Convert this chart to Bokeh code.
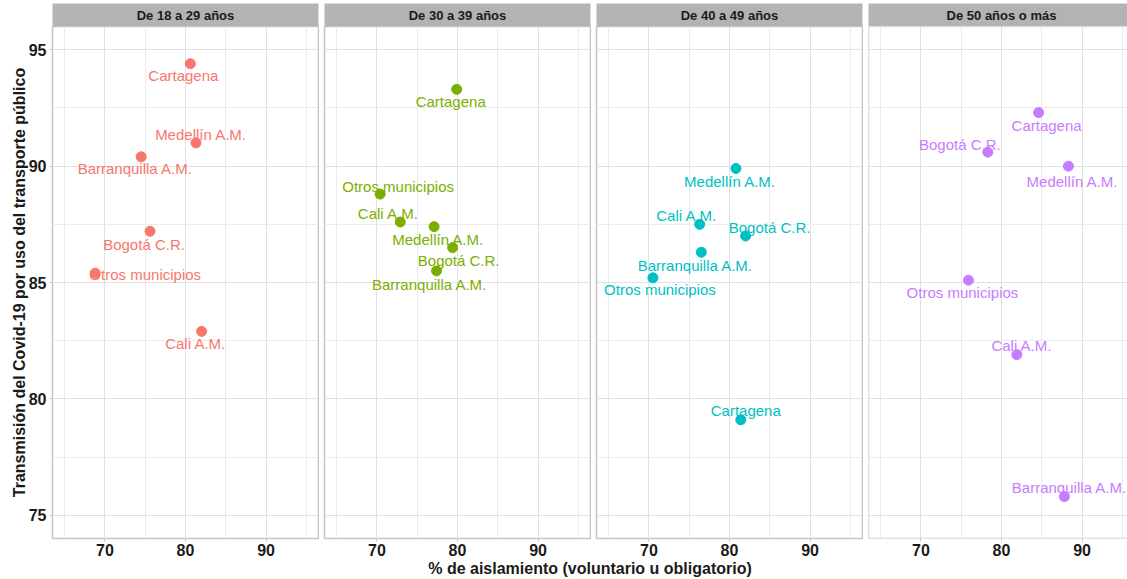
from bokeh.plotting import figure
from bokeh.layouts import row, column
from bokeh.models import Range1d, FixedTicker, Label, Span, ColumnDataSource
from bokeh.embed import file_html
from bokeh.resources import INLINE
from bokeh.core.properties import value

# ---- data -------------------------------------------------------------
grupos = ["De 18 a 29 años", "De 30 a 39 años", "De 40 a 49 años", "De 50 años o más"]
ciudades = ["Barranquilla A.M.", "Bogotá C.R.", "Cali A.M.", "Cartagena",
            "Medellín A.M.", "Otros municipios"]

# % de aislamiento (x), same city order as `ciudades`
aislamiento_18_29 = [74.5, 75.6, 82.0, 80.6, 81.3, 68.8]
aislamiento_30_39 = [77.4, 79.4, 72.9, 79.9, 77.1, 70.4]
aislamiento_40_49 = [76.5, 82.0, 76.3, 81.4, 80.8, 70.5]
aislamiento_50_mas = [87.8, 78.3, 81.9, 84.6, 88.3, 75.9]

# transmisión por uso del transporte público (y)
transmision_18_29 = [90.4, 87.2, 82.9, 94.4, 91.0, 85.4]
transmision_30_39 = [85.5, 86.5, 87.6, 93.3, 87.4, 88.8]
transmision_40_49 = [86.3, 87.0, 87.5, 79.1, 89.9, 85.2]
transmision_50_mas = [75.8, 90.6, 81.9, 92.3, 90.0, 85.1]

x_ticks = [70, 80, 90]
x_minor = [65, 75, 85, 95]
y_ticks = [75, 80, 85, 90, 95]
y_minor = [77.5, 82.5, 87.5, 92.5]

x_label = "% de aislamiento (voluntario u obligatorio)"
y_label = "Transmisión del Covid-19 por uso del transporte público"

# ---- styling / layout -------------------------------------------------
colores = ["#F8766D", "#7CAE00", "#00BFC4", "#C77CFF"]
FONT = "Liberation Sans"
X0, X1 = 63.5, 96.5
Y0, Y1 = 74.0, 96.0
FRAME_W, FRAME_H = 266, 512
frame_widths = [266, 266, 266, 259]
left_borders = [52, 5, 5, 5]
right_borders = [1, 1, 1, 0]

# label offsets in screen pixels (dx, dy), per panel, city order
offsets = [
    [(-6, 12), (-6, 13), (-6, 12), (-7, 12), (5, -8), (50, 1)],
    [(-7, 14), (6, 13), (-12, -8), (-6, 12), (4, 13), (18, -8)],
    [(-6, 13), (24, -8), (-13, -9), (5, -9), (-6, 13), (7, 12)],
    [(5, -9), (-28, -8), (5, -9), (8, 13), (4, 15), (-6, 12)],
]

xs = [aislamiento_18_29, aislamiento_30_39, aislamiento_40_49, aislamiento_50_mas]
ys = [transmision_18_29, transmision_30_39, transmision_40_49, transmision_50_mas]

GRID_MAJOR = "#E0E0E0"
GRID_MINOR = "#EBEBEB"
BORDER = "#C4C4C4"
TEXT = "#1A1A1A"


def make_strip(k):
    s = figure(frame_width=frame_widths[k], frame_height=23,
               min_border_left=left_borders[k], min_border_right=right_borders[k],
               min_border_top=3, min_border_bottom=0,
               x_range=Range1d(0, 1), y_range=Range1d(0, 1),
               x_axis_location=None, y_axis_location=None,
               toolbar_location=None, output_backend="svg")
    s.xgrid.visible = False
    s.ygrid.visible = False
    s.outline_line_color = None
    s.background_fill_color = "#B3B3B3"
    s.border_fill_color = "white"
    # strip text centred on the full-width panel
    cx = 0.5 * FRAME_W / frame_widths[k] if k == 3 else 0.5
    s.text(x=[cx], y=[0.5], text=[grupos[k]], text_align="center",
           text_baseline="middle", text_font=value(FONT), text_font_style="bold",
           text_font_size="13px", text_color=TEXT)
    return s


def make_panel(k):
    fw = frame_widths[k]
    x_end = X0 + fw * (X1 - X0) / FRAME_W
    p = figure(frame_width=fw, frame_height=FRAME_H,
               min_border_left=left_borders[k], min_border_right=right_borders[k],
               min_border_top=0, min_border_bottom=21,
               x_range=Range1d(X0, x_end), y_range=Range1d(Y0, Y1),
               y_axis_location="left" if k == 0 else None,
               toolbar_location=None, output_backend="svg")
    p.background_fill_color = "white"
    p.border_fill_color = "white"
    if k < 3:
        p.outline_line_color = BORDER
        p.outline_line_width = 1.5
    else:
        p.outline_line_color = None
        for loc, dim in ((X0, "height"), (Y0, "width"), (Y1, "width")):
            p.add_layout(Span(location=loc, dimension=dim,
                              line_color=BORDER, line_width=1.5))

    p.xgrid.ticker = FixedTicker(ticks=x_ticks, minor_ticks=x_minor)
    p.ygrid.ticker = FixedTicker(ticks=y_ticks, minor_ticks=y_minor)
    for g in (p.xgrid, p.ygrid):
        g.grid_line_color = GRID_MAJOR
        g.grid_line_width = 1
        g.minor_grid_line_color = GRID_MINOR
        g.minor_grid_line_width = 1

    axes = [p.xaxis[0]] + ([p.yaxis[0]] if k == 0 else [])
    for ax in axes:
        ax.axis_line_color = None
        ax.major_tick_line_color = BORDER
        ax.major_tick_out = 3
        ax.major_tick_in = 0
        ax.minor_tick_line_color = None
        ax.major_label_text_font = FONT
        ax.major_label_text_font_style = "bold"
        ax.major_label_text_font_size = "16px"
        ax.major_label_text_color = TEXT
        ax.major_label_standoff = 2
    p.xaxis.ticker = FixedTicker(ticks=x_ticks)
    if k == 0:
        ya = p.yaxis[0]
        ya.ticker = FixedTicker(ticks=y_ticks)
        ya.major_label_standoff = 3
        ya.axis_label = y_label
        ya.axis_label_text_font = FONT
        ya.axis_label_text_font_style = "bold"
        ya.axis_label_text_font_size = "16px"
        ya.axis_label_text_color = TEXT
        ya.axis_label_standoff = -2

    src = ColumnDataSource(dict(
        x=xs[k], y=ys[k], ciudad=ciudades,
        dx=[o[0] for o in offsets[k]], dy=[o[1] for o in offsets[k]],
    ))
    p.scatter("x", "y", source=src, size=10, color=colores[k])
    p.text("x", "y", text="ciudad", source=src, x_offset="dx", y_offset="dy",
           text_align="center", text_baseline="middle",
           text_font=value(FONT), text_font_size="15px", text_color=colores[k])
    return p


cols = [column(make_strip(k), make_panel(k), spacing=0) for k in range(4)]
panels = row(*cols, spacing=0)

# shared x-axis title under all panels
t = figure(width=1127, height=20, x_range=Range1d(0, 1127), y_range=Range1d(0, 20),
           min_border=0, x_axis_location=None, y_axis_location=None,
           toolbar_location=None, output_backend="svg")
t.xgrid.visible = False
t.ygrid.visible = False
t.outline_line_color = None
t.add_layout(Label(x=589.5, y=11, text=x_label, text_align="center",
                   text_baseline="middle", text_font=FONT, text_font_style="bold",
                   text_font_size="16px", text_color=TEXT))

page = column(panels, t, spacing=0)
open("out.html", "w").write(file_html(page, INLINE))
